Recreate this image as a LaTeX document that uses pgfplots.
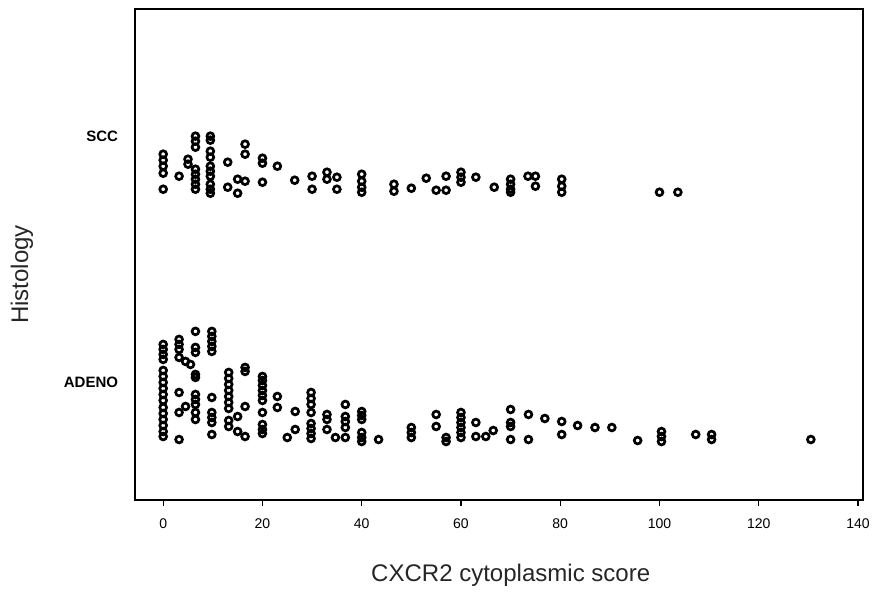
\documentclass[border=0pt]{standalone}
\usepackage{pgfplots}
\pgfplotsset{compat=1.18}
\usepackage{fontspec}
\setmainfont{Liberation Sans}

\begin{document}
\begin{tikzpicture}
\begin{axis}[
    scale only axis,
    width=363.5pt, height=245pt,
    xmin=-5.65, xmax=141,
    ymin=10, ymax=500, y dir=reverse,
    axis line style={line width=1pt},
    tick pos=left, tick align=outside,
    major tick length=3pt,
    xtick={0,20,...,140},
    xtick style={black, line width=0.6pt},
    ytick={137,383}, yticklabels={SCC,ADENO},
    ytick style={draw=none},
    /pgf/number format/assume math mode=true,
    xticklabel style={font=\fontsize{7}{8}\selectfont, yshift=-3pt},
    yticklabel style={font=\fontsize{7.5}{9}\selectfont\bfseries, xshift=-2pt},
    xlabel={CXCR2 cytoplasmic score},
    ylabel={Histology},
    label style={font=\fontsize{12}{14}\selectfont, text=black!85},
    xlabel style={at={(axis description cs:0.516,0)}, anchor=center, yshift=-38pt},
    ylabel style={at={([xshift=-56.5pt]axis description cs:0,0.459)}, anchor=center},
    clip=false,
]
% SCC (y in picture rows)
\addplot[only marks, mark=o, mark size=1.7pt, black, mark options={line width=1.35pt}] coordinates {
 (0,155) (0,161) (0,167) (0,174) (0,190)
 (3.2,177)
 (5,160) (5,165)
 (6.5,137) (6.5,142) (6.5,148) (6.5,170) (6.5,175) (6.5,180) (6.5,185) (6.5,190)
 (9.5,137) (9.5,141) (9.5,152) (9.5,158) (9.5,167) (9.5,172) (9.5,177) (9.5,185) (9.5,190) (9.5,194)
 (13,163) (13,188)
 (15,180) (15,194)
 (16.5,145) (16.5,155) (16.5,182)
 (20,159) (20,164) (20,183)
 (23,167)
 (26.5,181)
 (30,177) (30,190)
 (33,173) (33,180)
 (35,178) (35,190)
 (40,175) (40,182) (40,188) (40,193)
 (46.5,185) (46.5,192)
 (50,189)
 (53,179)
 (55,191)
 (57,177) (57,191)
 (60,173) (60,178) (60,183)
 (63,178)
 (66.7,188)
 (70,180) (70,185) (70,190) (70,193)
 (73.5,177)
 (75,177) (75,187)
 (80.3,180) (80.3,187) (80.3,193)
 (100,193)
 (103.7,193)
};
% ADENO
\addplot[only marks, mark=o, mark size=1.7pt, black, mark options={line width=1.35pt}] coordinates {
 (0,345) (0,350) (0,355) (0,360) (0,371) (0,377) (0,383) (0,389) (0,395) (0,401) (0,408) (0,414) (0,420) (0,426) (0,432) (0,437)
 (3.2,340) (3.2,345) (3.2,350) (3.2,358) (3.2,393) (3.2,413) (3.2,440)
 (4.5,362) (4.5,407)
 (5.5,365)
 (6.5,332) (6.5,348) (6.5,353) (6.5,375) (6.5,378) (6.5,395) (6.5,400) (6.5,405) (6.5,413) (6.5,420)
 (9.8,332) (9.8,337) (9.8,342) (9.8,347) (9.8,352) (9.8,398) (9.8,413) (9.8,418) (9.8,423) (9.8,435)
 (13.2,373) (13.2,379) (13.2,385) (13.2,391) (13.2,397) (13.2,403) (13.2,409) (13.2,421) (13.2,427)
 (15,417) (15,432)
 (16.5,368) (16.5,372) (16.5,407) (16.5,437)
 (20,377) (20,381) (20,386) (20,391) (20,396) (20,401) (20,413) (20,425) (20,430) (20,434)
 (23,397) (23,408)
 (25,438)
 (26.6,412) (26.6,430)
 (29.8,393) (29.8,399) (29.8,405) (29.8,413) (29.8,424) (29.8,429) (29.8,434) (29.8,439)
 (33,415) (33,420) (33,430)
 (34.7,438)
 (36.7,405) (36.7,417) (36.7,422) (36.7,428) (36.7,438)
 (40,412) (40,416) (40,420) (40,433) (40,438) (40,442)
 (43.4,440)
 (50,428) (50,433) (50,438)
 (55,415) (55,427)
 (57,438) (57,442)
 (60,413) (60,418) (60,423) (60,428) (60,433) (60,438)
 (63,423) (63,437)
 (65,437)
 (66.5,431)
 (70,410) (70,423) (70,427) (70,440)
 (73.6,415) (73.6,440)
 (76.9,419)
 (80.3,422) (80.3,435)
 (83.5,426)
 (87,428)
 (90.4,428)
 (95.6,441)
 (100.4,432) (100.4,437) (100.4,442)
 (107.3,435)
 (110.5,435) (110.5,440)
 (130.5,440)
};
\end{axis}
\path ([shift={(-67.5pt,-45pt)}]current axis.south west) rectangle ([shift={(8pt,4.5pt)}]current axis.north east);
\end{tikzpicture}
\end{document}
